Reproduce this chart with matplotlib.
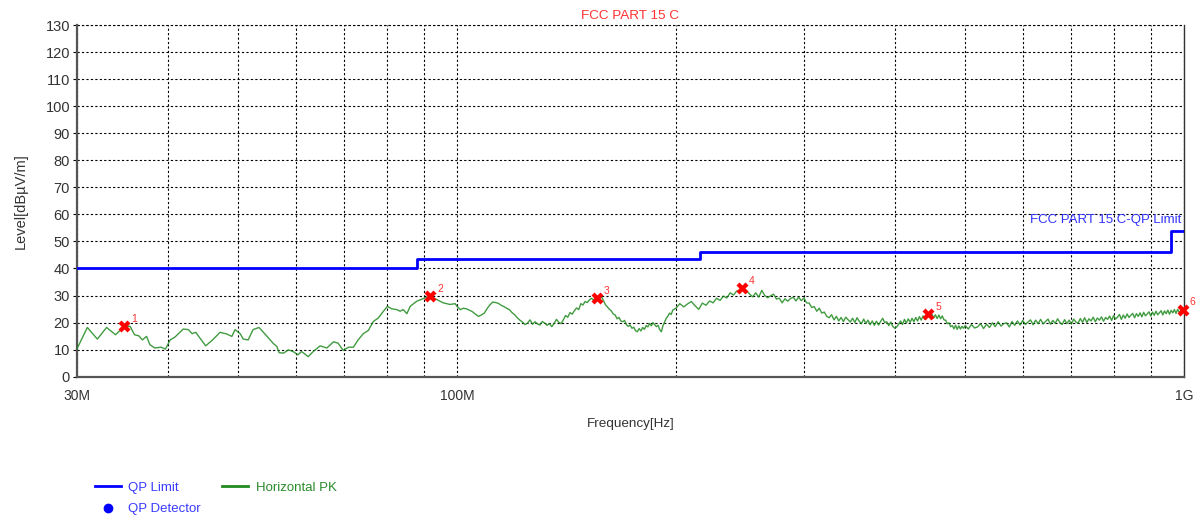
import numpy as np
import matplotlib
matplotlib.use("Agg")
import matplotlib.pyplot as plt
from matplotlib.lines import Line2D
from matplotlib.ticker import FixedLocator, NullFormatter

plt.rcParams['font.family'] = ['Liberation Sans', 'DejaVu Sans']

# FCC Part 15 C QP limit (MHz, dBuV/m), step after each edge
limit_freq = [30, 88, 216, 960, 1000]
limit_level = [40, 43.5, 46, 54, 54]

# horizontal peak scan, 30-100 MHz (irregular points)
pk_lo_freq = [30.0, 31.0, 32.0, 32.95, 33.9, 34.85, 35.5, 36.0, 36.5, 36.9,
              37.4, 37.8, 38.4, 39.15, 39.7, 40.3, 40.9, 42.0, 42.7, 43.2,
              43.7, 45.1, 46.1, 47.2, 48.2, 49.0, 49.5, 50.3, 50.8, 51.6,
              52.4, 53.4, 54.7, 55.9, 56.5, 56.9, 57.7, 58.6, 59.5, 60.4,
              61.1, 62.4, 63.4, 64.8, 66.2, 67.6, 68.6, 69.7, 70.9, 72.0,
              73.1, 74.3, 75.5, 76.7, 77.9, 79.2, 80.2, 81.3, 82.6, 83.5,
              84.3, 85.3, 86.2, 88.0, 89.9, 91.8, 93.8, 95.7, 97.8, 99.4]
pk_lo_level = [10.3, 18.2, 13.9, 18.2, 15.5, 18.6, 18.6, 15.5, 15.1, 13.6,
               14.9, 11.8, 10.6, 10.9, 10.2, 13.6, 14.6, 17.6, 17.4, 15.9,
               16.4, 11.4, 13.6, 16.4, 15.8, 14.9, 17.4, 15.9, 13.9, 13.6,
               17.4, 18.2, 15.1, 12.2, 11.2, 8.9, 8.7, 9.9, 9.3, 8.1,
               9.3, 7.4, 9.3, 11.4, 10.6, 12.9, 12.4, 9.7, 10.9, 10.9,
               13.6, 15.9, 17.1, 20.4, 21.7, 24.2, 26.0, 25.1, 24.8, 24.2,
               24.8, 23.3, 26.0, 27.9, 28.9, 29.7, 28.5, 27.3, 26.7, 27.0]

# sweep segments: (start MHz, step MHz, levels)
pk_seg1_start, pk_seg1_step = 100.0, 1.0
pk_seg1_level = [26.0, 24.8, 25.3, 25.1, 24.6, 24.0, 23.1, 22.3, 22.8, 23.5,
                 25.2, 26.6, 27.6, 27.4, 27.1, 26.4, 25.9, 25.3, 24.8, 23.7,
                 22.9, 21.8, 20.9, 20.2, 19.3, 19.8, 21.0, 19.4, 20.3, 19.5,
                 19.1, 20.4, 19.8, 19.0, 19.6, 18.5, 19.7, 21.2, 20.1, 19.6,
                 21.0, 22.6, 22.0, 23.7, 23.1, 24.4, 25.4, 24.8, 27.0, 26.5,
                 27.8, 27.4, 28.3, 29.0, 28.4, 29.0, 29.3, 28.8, 29.6, 28.1,
                 26.6, 25.8, 24.9, 24.3, 23.2, 22.8, 21.4, 21.9, 20.6, 20.3,
                 20.8, 19.2, 18.6, 19.1, 17.9, 18.3, 17.0, 16.6, 17.8, 16.9,
                 18.2, 17.5, 18.9, 18.4, 19.7, 18.8, 20.0, 19.2, 18.5, 19.0,
                 17.4, 16.6, 18.9, 20.3, 21.6, 22.4, 23.5, 23.0, 24.6, 25.0]

pk_seg2_start, pk_seg2_step = 200.0, 2.5
pk_seg2_level = [25.3, 27.0, 25.8, 26.9, 27.8, 26.2, 24.9, 27.2, 26.4, 28.0,
                 27.3, 29.0, 28.2, 29.8, 29.1, 31.0, 30.2, 31.7, 31.0, 32.6,
                 31.8, 30.6, 29.5, 31.0, 29.4, 31.9, 30.0, 29.2, 29.9, 30.5,
                 28.7, 29.0, 27.3, 28.8, 27.9, 28.9, 29.4, 28.0, 29.4, 28.1,
                 29.1, 27.3, 27.2, 25.6, 25.9, 24.2, 25.3, 23.5, 23.9, 22.3,
                 21.8, 22.9, 21.0, 22.3, 20.6, 21.9, 20.4, 22.0, 21.1, 20.2,
                 21.6, 20.0, 21.8, 20.5, 19.6, 21.3, 19.7, 20.9, 19.2, 20.6,
                 19.0, 20.5, 19.1, 20.4, 21.6, 20.0, 20.3, 18.9, 20.2, 18.6,
                 17.9, 18.4, 19.4, 20.6, 19.3, 21.2, 19.8, 21.4, 20.1, 21.6,
                 20.3, 21.9, 20.6, 22.2, 20.9, 22.5, 21.2, 22.9, 23.2, 21.8,
                 23.1, 21.7, 22.9, 21.5, 22.8, 21.4, 22.5, 21.0, 20.9, 19.6,
                 19.9, 18.5, 18.9, 17.7, 19.0, 17.5, 18.8, 17.6, 18.6, 17.9]

pk_seg3_start, pk_seg3_step = 500.0, 5.0
pk_seg3_level = [18.9, 17.6, 19.3, 18.0, 18.4, 19.6, 17.8, 19.4, 18.2, 19.9,
                 18.5, 20.3, 18.7, 19.6, 19.9, 18.4, 20.4, 19.0, 20.6, 19.1,
                 20.8, 19.3, 20.2, 21.0, 19.2, 20.9, 19.6, 21.2, 19.5, 20.4,
                 21.3, 19.4, 20.8, 19.7, 21.4, 20.0, 19.3, 21.1, 19.6, 20.9,
                 19.5, 21.3, 20.2, 19.8, 21.5, 20.1, 21.8, 20.0, 21.4, 20.6,
                 22.0, 20.3, 21.7, 20.9, 22.1, 20.5, 21.9, 21.2, 22.4, 20.8,
                 22.6, 21.3, 22.0, 23.0, 21.2, 22.8, 21.6, 23.2, 21.9, 22.7,
                 23.4, 21.8, 23.3, 22.3, 23.6, 22.1, 23.8, 22.5, 23.2, 24.0,
                 22.4, 23.9, 22.7, 24.2, 22.9, 23.6, 24.4, 22.8, 24.3, 23.3,
                 24.6, 23.1, 24.5, 23.6, 24.8, 23.4, 24.9, 23.8, 24.4, 25.2,
                 24.8]

# QP detector points
qp_freq = [34.85, 91.8, 155.7, 246.5, 445.0, 995.5]
qp_level = [18.6, 29.7, 29.1, 32.9, 23.0, 24.8]
qp_labels = ["1", "2", "3", "4", "5", "6"]

yticks = list(range(0, 131, 10))
xmajor = [30, 100, 1000]
xmajor_labels = ["30M", "100M", "1G"]
xminor = [40, 50, 60, 70, 80, 90, 200, 300, 400, 500, 600, 700, 800, 900]


def sweep(start, step, levels):
    return start + step * np.arange(len(levels)), np.asarray(levels)


segs = [sweep(pk_seg1_start, pk_seg1_step, pk_seg1_level),
        sweep(pk_seg2_start, pk_seg2_step, pk_seg2_level),
        sweep(pk_seg3_start, pk_seg3_step, pk_seg3_level)]
pk_freq = np.concatenate([pk_lo_freq] + [s[0] for s in segs])
pk_level = np.concatenate([pk_lo_level] + [s[1] for s in segs])

fig = plt.figure(figsize=(11.99, 5.18), dpi=100)
ax = fig.add_axes([0.0642, 0.2728, 0.9233, 0.6789])

ax.set_xscale('log')
ax.set_xlim(30, 1000)
ax.set_ylim(0, 130)

ax.xaxis.set_major_locator(FixedLocator(xmajor))
ax.xaxis.set_minor_locator(FixedLocator(xminor))
ax.xaxis.set_minor_formatter(NullFormatter())
ax.set_xticklabels(xmajor_labels)
ax.set_yticks(yticks)

grid_kw = dict(color='black', linestyle=(0, (2, 2)), linewidth=0.8)
ax.grid(True, which='major', axis='both', **grid_kw)
ax.grid(True, which='minor', axis='x', **grid_kw)
ax.axhline(130, clip_on=False, zorder=1, **grid_kw)

ax.tick_params(axis='x', which='both', length=0, pad=9, labelsize=10, labelcolor='#333333')
ax.tick_params(axis='y', length=3, width=0.8, pad=2, labelsize=10.5, labelcolor='#333333')

for s in ['left', 'bottom']:
    ax.spines[s].set_color('#555555')
    ax.spines[s].set_linewidth(1.6)
ax.spines['top'].set_visible(False)
ax.spines['right'].set_color('#333333')
ax.spines['right'].set_linewidth(1.0)

ax.plot(limit_freq, limit_level, drawstyle='steps-post', color='#0000ff', linewidth=2, zorder=3)
ax.plot(pk_freq, pk_level, color='#1f8a1f', linewidth=1.0, alpha=0.85, zorder=4)

ax.scatter(qp_freq, qp_level, marker='X', s=75, color='#ff0000', linewidths=0, zorder=5, clip_on=False)
for f, lv, t in zip(qp_freq, qp_level, qp_labels):
    ax.annotate(t, (f, lv), xytext=(5, 3), textcoords='offset points',
                color='#ff3333', fontsize=7.5, annotation_clip=False)

ax.text(0.998, 58.0, "FCC PART 15 C-QP Limit", transform=ax.get_yaxis_transform(),
        ha='right', va='center', color='#3333ff', fontsize=9.5)

ax.set_title("FCC PART 15 C", color='#ff3333', fontsize=9.7, pad=4)
ax.set_xlabel("Frequency[Hz]", fontsize=9.7, color='#333333', labelpad=11)
ax.set_ylabel("Level[dBµV/m]", fontsize=10.5, color='#333333', labelpad=13)

handles = [Line2D([], [], color='#0000ff', linewidth=2),
           Line2D([], [], linestyle='none', marker='o', markersize=6, color='#0000ff'),
           Line2D([], [], color='#1f8a1f', linewidth=2)]
leg = fig.legend(handles, ["QP Limit", "QP Detector", "Horizontal PK"], ncol=2,
                 loc='upper left', bbox_to_anchor=(0.069, 0.093),
                 frameon=False, fontsize=9.5, handlelength=2.0, handletextpad=0.55,
                 labelspacing=0.7, columnspacing=1.6)
for txt, c in zip(leg.get_texts(), ['#3a3aff', '#3a3aff', '#2a8a2a']):
    txt.set_color(c)

fig.savefig("out.png", dpi=100)
